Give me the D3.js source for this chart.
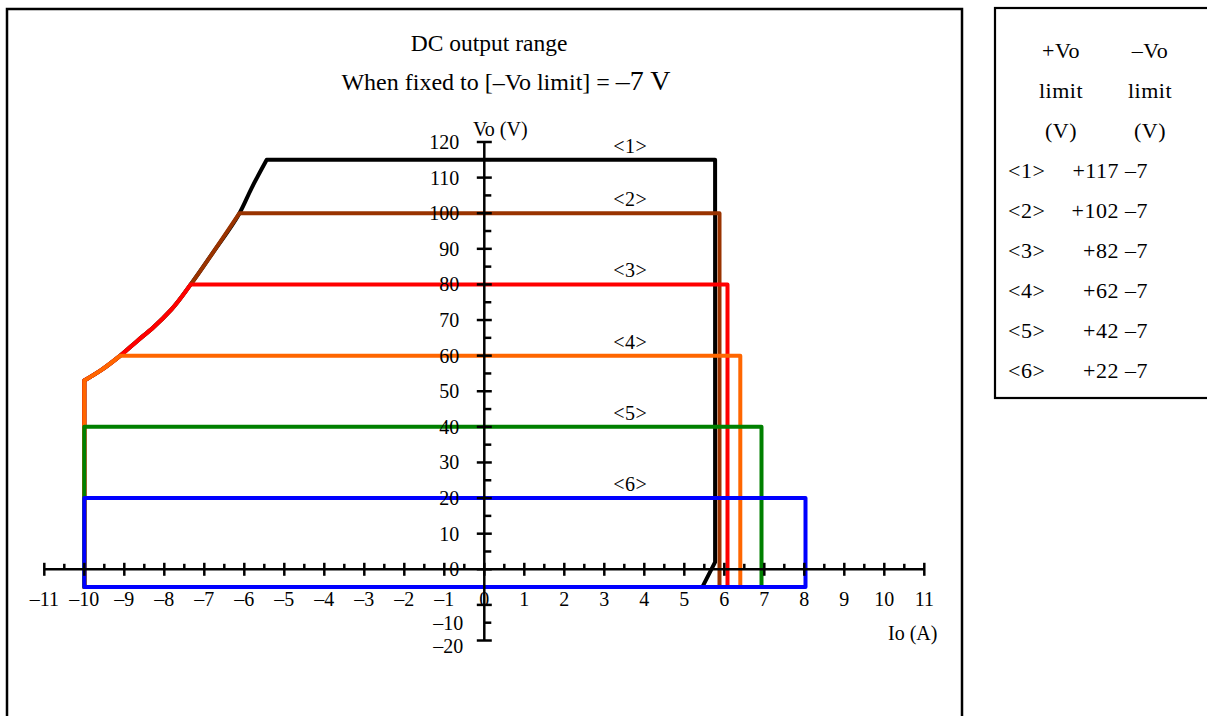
<!DOCTYPE html>
<html>
<head>
<meta charset="utf-8">
<script src="https://cdn.jsdelivr.net/npm/d3@7"></script>
<style>
  html, body { margin: 0; padding: 0; background: #fff; }
  svg { display: block; font-family: "Liberation Serif", "Times New Roman", serif; }
</style>
</head>
<body>
<svg id="chart" width="1207" height="716"></svg>
<script>
// ---------------- data ----------------
const seriesNames = ["<1>", "<2>", "<3>", "<4>", "<5>", "<6>"];
const seriesColors = ["#000000", "#993300", "#ff0000", "#ff6600", "#008000", "#0000ff"];
const plateauV = [115, 100, 80, 60, 40, 20];          // upper Vo level of each range (V)
const rightI = [5.77, 5.88, 6.08, 6.40, 6.93, 8.03];  // right current limit (A)
const kneeV = [2, null, null, null, null, null];      // series <1> bends at this Vo
const kneeFootI = [5.45, null, null, null, null, null];
const bottomV = -5;                                   // lower Vo level (V)
const leftI = -10;                                    // sink current limit (A)
// shared left (sink) boundary curve
const boundaryI = [-10, -10, -9.57, -9.1, -8.69, -8.27, -7.82, -7.34, -6.78, -6.12, -5.82, -5.44];
const boundaryV = [-5, 53, 56, 60, 64, 68, 73, 80, 89, 100, 107, 115];

const xTickValues = [-11, -10, -9, -8, -7, -6, -5, -4, -3, -2, -1, 0, 1, 2, 3, 4, 5, 6, 7, 8, 9, 10, 11];
const xMinorValues = [-10.5, -9.5, -8.5, -7.5, -6.5, -5.5, -4.5, -3.5, -2.5, -1.5, -0.5, 0.5, 1.5, 2.5, 3.5, 4.5, 5.5, 6.5, 7.5, 8.5, 9.5, 10.5];
const yTickValues = [-20, -10, 0, 10, 20, 30, 40, 50, 60, 70, 80, 90, 100, 110, 120];
const yMinorValues = [-15, 5, 15, 25, 35, 45, 55, 65, 75, 85, 95, 105, 115];
const yLabelValues = [0, 10, 20, 30, 40, 50, 60, 70, 80, 90, 100, 110, 120];
const yNegLabelValues = [-10, -20];

const legendHeader1 = ["+Vo", "\u2013Vo"];
const legendHeader2 = ["limit", "limit"];
const legendHeader3 = ["(V)", "(V)"];
const legendPlus = ["+117", "+102", "+82", "+62", "+42", "+22"];
const legendMinus = ["\u20137", "\u20137", "\u20137", "\u20137", "\u20137", "\u20137"];

const minus = s => String(s).replace("-", "\u2013");

// ---------------- layout ----------------
const svg = d3.select("#chart");
svg.append("rect").attr("x", 0).attr("y", 0).attr("width", 1207).attr("height", 716).attr("fill", "#fff");

// frames
svg.append("rect").attr("x", 7).attr("y", 9).attr("width", 955).attr("height", 720)
  .attr("fill", "none").attr("stroke", "#000").attr("stroke-width", 2.5);
svg.append("rect").attr("x", 995).attr("y", 8).attr("width", 220).attr("height", 390)
  .attr("fill", "none").attr("stroke", "#000").attr("stroke-width", 2.2);

const x = d3.scaleLinear().domain([-11, 11]).range([44.3, 924.3]);
const y = d3.scaleLinear().domain([-20, 120]).range([640.5, 142]);

// titles
svg.append("text").attr("x", 489).attr("y", 51).attr("text-anchor", "middle")
  .attr("font-size", 23.5).text("DC output range");
const t2 = svg.append("text").attr("x", 506).attr("y", 90).attr("text-anchor", "middle").attr("font-size", 24);
t2.append("tspan").text("When fixed to [\u2013Vo limit] = ");
t2.append("tspan").attr("font-size", 28).text("\u20137 V");

// ---------------- series ----------------
const lineLin = d3.line().x(d => x(d[0])).y(d => y(d[1]));
const lineCurve = d3.line().x(d => x(d[0])).y(d => y(d[1])).curve(d3.curveMonotoneY);
const plotG = svg.append("g");
seriesNames.forEach((name, i) => {
  const left = [];
  for (let k = 1; k < boundaryI.length; k++) {
    if (boundaryV[k] <= plateauV[i]) left.push([boundaryI[k], boundaryV[k]]);
  }
  const rest = [];
  let d;
  if (left.length > 1 && left[left.length - 1][1] === plateauV[i]) {
    d = "M" + x(boundaryI[0]) + "," + y(boundaryV[0]) + "L" + lineCurve(left).slice(1);
    rest.push(left[left.length - 1]);
  } else {
    rest.push([boundaryI[0], boundaryV[0]]);
    rest.push([leftI, plateauV[i]]);
    d = "";
  }
  rest.push([rightI[i], plateauV[i]]);
  if (kneeV[i] !== null) {
    rest.push([rightI[i], kneeV[i]]);
    rest.push([kneeFootI[i], bottomV]);
  } else {
    rest.push([rightI[i], bottomV]);
  }
  rest.push([leftI, bottomV]);
  const restPath = lineLin(rest);
  d = d ? d + "L" + restPath.slice(1) + "Z" : restPath + "Z";
  plotG.append("path").attr("d", d)
    .attr("fill", "none").attr("stroke", seriesColors[i]).attr("stroke-width", 4)
    .attr("stroke-linejoin", "round");
});

// ---------------- axes ----------------
const axG = svg.append("g").attr("stroke", "#000").attr("stroke-width", 2.5);
axG.append("line").attr("x1", x(-11)).attr("x2", x(11)).attr("y1", y(0)).attr("y2", y(0));
axG.selectAll(".xt").data(xTickValues).join("line")
  .attr("x1", d => x(d)).attr("x2", d => x(d)).attr("y1", y(0) - 6.5).attr("y2", y(0) + 6.5);
axG.selectAll(".xm").data(xMinorValues).join("line")
  .attr("x1", d => x(d)).attr("x2", d => x(d)).attr("y1", y(0) - 5.5).attr("y2", y(0));
axG.append("line").attr("x1", x(0)).attr("x2", x(0)).attr("y1", y(120)).attr("y2", y(-20));
axG.selectAll(".yt").data(yTickValues).join("line")
  .attr("x1", x(0) - 7.5).attr("x2", x(0) + 7.5).attr("y1", d => y(d)).attr("y2", d => y(d));
axG.selectAll(".ym").data(yMinorValues).join("line")
  .attr("x1", x(0)).attr("x2", x(0) + 7).attr("y1", d => y(d)).attr("y2", d => y(d));

// tick labels
const fs = 20;
svg.append("g").selectAll("text").data(xTickValues).join("text")
  .attr("x", d => x(d)).attr("y", y(0) + 37).attr("text-anchor", "middle")
  .attr("font-size", fs).text(d => minus(d));
svg.append("g").selectAll("text").data(yLabelValues).join("text")
  .attr("x", x(0) - 25).attr("y", d => y(d) + 7).attr("text-anchor", "end")
  .attr("font-size", fs).text(d => minus(d));
svg.append("g").selectAll("text").data(yNegLabelValues).join("text")
  .attr("x", x(0) - 21).attr("y", (d, i) => y(d) + (i === 0 ? 25 : 12)).attr("text-anchor", "end")
  .attr("font-size", fs).text(d => minus(d));

// axis titles
svg.append("text").attr("x", 473).attr("y", 136).attr("font-size", fs).text("Vo (V)");
svg.append("text").attr("x", 888).attr("y", 640).attr("font-size", fs).text("Io (A)");

// series labels
svg.append("g").selectAll("text").data(seriesNames).join("text")
  .attr("x", x(3.65)).attr("y", (d, i) => y(plateauV[i]) - 7).attr("text-anchor", "middle")
  .attr("font-size", 20).attr("letter-spacing", 0.5).text(d => d);

// ---------------- legend table ----------------
const lg = svg.append("g").attr("font-size", 22).attr("letter-spacing", 0.5);
const colC1 = 1061, colC2 = 1150, rowY0 = 58, rowStep = 40;
[legendHeader1, legendHeader2, legendHeader3].forEach((row, r) => {
  row.forEach((t, c) => {
    lg.append("text").attr("x", c === 0 ? colC1 : colC2).attr("y", rowY0 + r * rowStep)
      .attr("text-anchor", "middle").text(t);
  });
});
seriesNames.forEach((name, i) => {
  const yy = rowY0 + (i + 3) * rowStep;
  lg.append("text").attr("x", 1008).attr("y", yy).text(name);
  lg.append("text").attr("x", 1119).attr("y", yy).attr("text-anchor", "end").text(legendPlus[i]);
  lg.append("text").attr("x", 1125).attr("y", yy).text(legendMinus[i]);
});
</script>
</body>
</html>
